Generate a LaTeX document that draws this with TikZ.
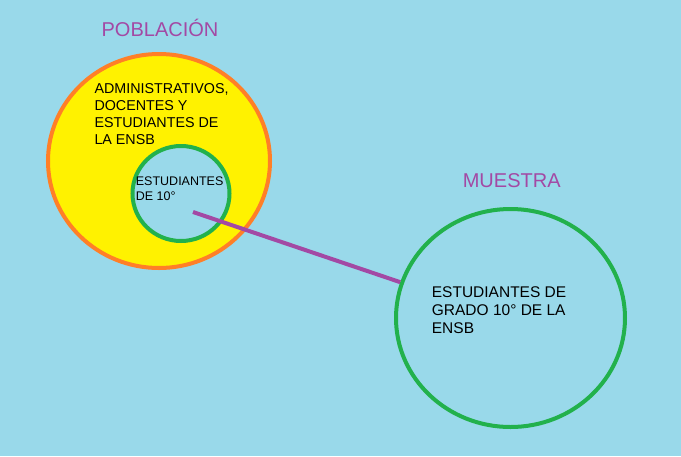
\documentclass[tikz,border=0pt]{standalone}
\usepackage{fontspec}
\setmainfont{Liberation Sans}
\usetikzlibrary{shapes.geometric,positioning}
\definecolor{fondo}{HTML}{99D9EA}
\definecolor{amarillo}{HTML}{FFF200}
\definecolor{naranja}{HTML}{FF7F27}
\definecolor{verde}{HTML}{22B14C}
\definecolor{morado}{HTML}{A349A4}
\begin{document}
\begin{tikzpicture}[
        x=1pt, y=-1pt,
        conjunto/.style={ellipse, line width=4pt, inner sep=0pt},
        titulo/.style={font=\fontsize{20}{24}\selectfont, text=morado, inner sep=0pt, anchor=base},
        etiqueta/.style={align=left, anchor=north west, inner sep=0pt, text=black}
      ]

        \fill[fondo] (0,0) rectangle (681,456);
        \useasboundingbox (0,0) rectangle (681,456);

        \node (poblacion) [conjunto, draw=naranja, fill=amarillo, minimum width=222pt, minimum height=214pt] at (159,161) {};
        \node (decimo) [conjunto, draw=verde, fill=fondo, minimum width=97pt, minimum height=95pt] at (181,193.5) {};
        \node (muestra) [conjunto, draw=verde, fill=fondo, minimum width=229pt, minimum height=218pt] at (510.5,318) {};

        \node (titpob) [titulo] at (160,36.7) {POBLACIÓN};
        \node (titmue) [titulo] at (511.7,187.3) {MUESTRA};

        \node (txtpob) [etiqueta, font=\fontsize{14.3}{17}\selectfont] at (94.3,83.3) {ADMINISTRATIVOS,\\DOCENTES Y\\ESTUDIANTES DE\\LA ENSB};
        \node (txtdec) [etiqueta, font=\fontsize{12.5}{15}\selectfont] at (135.7,176.7) {ESTUDIANTES\\DE 10°};
        \node (txtmue) [etiqueta, font=\fontsize{15.5}{18}\selectfont] at (431.7,286.7) {ESTUDIANTES DE\\GRADO 10° DE LA\\ENSB};

        \coordinate (enlace) at (193,212);
        \draw[morado, line width=4pt] (enlace) -- (muestra.162);
      \end{tikzpicture}
\end{document}
